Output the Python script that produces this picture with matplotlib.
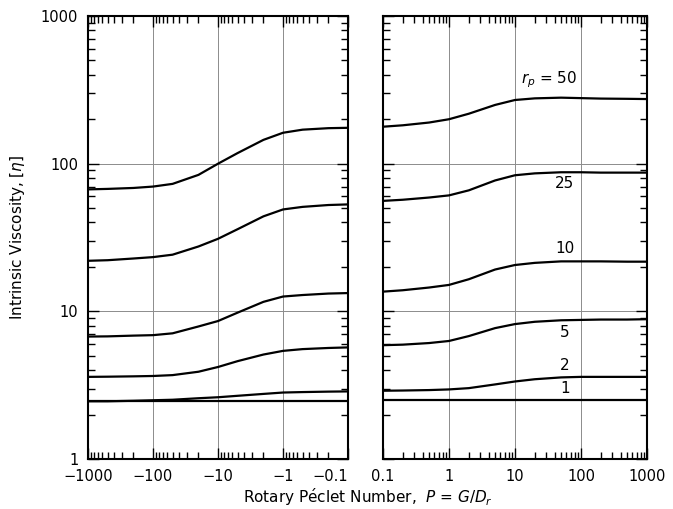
import matplotlib
matplotlib.use("Agg")
import matplotlib.pyplot as plt
from matplotlib.ticker import LogLocator, FixedLocator, FixedFormatter, NullFormatter

# |P| values (left panel is negative P, right panel positive P)
p_neg = [1000, 500, 200, 100, 50, 20, 10, 5, 2, 1, 0.5, 0.2, 0.1]
p_pos = [0.1, 0.2, 0.5, 1, 2, 5, 10, 20, 50, 100, 200, 500, 1000]

aspect_ratios = [50, 25, 10, 5, 2, 1]

visc_neg = {
    50: [67, 67.5, 68.5, 70, 73, 84, 100, 118, 145, 162, 170, 174, 175],
    25: [22, 22.2, 22.8, 23.3, 24.2, 27.5, 31, 36, 44, 49, 51, 52.5, 53],
    10: [6.75, 6.77, 6.85, 6.9, 7.1, 7.9, 8.6, 9.8, 11.6, 12.6, 12.9, 13.2, 13.3],
    5: [3.6, 3.61, 3.63, 3.65, 3.7, 3.9, 4.2, 4.6, 5.1, 5.4, 5.55, 5.65, 5.7],
    2: [2.46, 2.46, 2.48, 2.5, 2.52, 2.58, 2.62, 2.68, 2.76, 2.82, 2.84, 2.86, 2.87],
    1: [2.48] * 13,
}
visc_pos = {
    50: [178, 182, 190, 200, 218, 250, 270, 277, 280, 278, 276, 275, 274],
    25: [56, 57, 59, 61, 66, 77, 83.5, 86, 87.5, 87.5, 87, 87, 87],
    10: [13.6, 13.9, 14.5, 15.1, 16.5, 19.2, 20.6, 21.3, 21.8, 21.8, 21.8, 21.7, 21.7],
    5: [5.9, 5.95, 6.1, 6.3, 6.8, 7.7, 8.2, 8.5, 8.7, 8.75, 8.8, 8.8, 8.85],
    2: [2.9, 2.91, 2.93, 2.96, 3.02, 3.2, 3.35, 3.47, 3.57, 3.6, 3.6, 3.6, 3.6],
    1: [2.5] * 13,
}

y_ticks = [1, 10, 100, 1000]
y_labels = ["1", "10", "100", "1000"]
x_ticks = [1000, 100, 10, 1, 0.1]
x_labels_neg = ["\u22121000", "\u2212100", "\u221210", "\u22121", "\u22120.1"]
x_labels_pos = ["0.1", "1", "10", "100", "1000"]

# curve labels on the right panel: (text, x, y)
curve_labels = [(r"$r_p$ = 50", 33, 368), ("25", 57, 74), ("10", 57, 26.8),
                ("5", 57, 7.2), ("2", 57, 4.3), ("1", 57, 3.02)]

plt.rcParams["font.family"] = "DejaVu Sans"

fig = plt.figure(figsize=(6.73, 5.09), dpi=100)
ax_l = fig.add_axes([0.1308, 0.0982, 0.3863, 0.8703])
ax_r = fig.add_axes([0.569, 0.0982, 0.3923, 0.8703])


def style_axis(ax):
    ax.set_xscale("log")
    ax.set_yscale("log")
    ax.set_ylim(1, 1000)
    ax.grid(True, which="major", color="#8c8c8c", linewidth=0.7)
    ax.xaxis.set_minor_locator(LogLocator(base=10, subs=range(2, 10)))
    ax.yaxis.set_minor_locator(LogLocator(base=10, subs=range(2, 10)))
    ax.xaxis.set_minor_formatter(NullFormatter())
    ax.yaxis.set_minor_formatter(NullFormatter())
    ax.tick_params(which="both", direction="in", top=True, right=True, width=1.0)
    ax.tick_params(which="major", length=8, labelsize=10.5)
    ax.tick_params(which="minor", length=5)
    ax.tick_params(axis="x", which="major", pad=7)
    ax.tick_params(axis="y", which="major", pad=7)
    for s in ax.spines.values():
        s.set_linewidth(1.5)
    ax.yaxis.set_major_locator(FixedLocator(y_ticks))


for rp in aspect_ratios:
    ax_l.plot(p_neg, visc_neg[rp], color="black", linewidth=1.6)
    ax_r.plot(p_pos, visc_pos[rp], color="black", linewidth=1.6)

style_axis(ax_l)
style_axis(ax_r)

ax_l.set_xlim(1000, 0.1)
ax_l.xaxis.set_major_locator(FixedLocator(x_ticks))
ax_l.xaxis.set_major_formatter(FixedFormatter(x_labels_neg))
ax_l.yaxis.set_major_formatter(FixedFormatter(y_labels))

ax_r.set_xlim(0.1, 1000)
ax_r.xaxis.set_major_locator(FixedLocator(x_ticks[::-1]))
ax_r.xaxis.set_major_formatter(FixedFormatter(x_labels_pos))
ax_r.yaxis.set_major_formatter(NullFormatter())

# keep "-0.1" clear of "0.1" at the gap between panels
ax_l.get_xticklabels()[-1].set_horizontalalignment("right")
ax_l.get_xticklabels()[-1].set_x(0.1)

for txt, xv, yv in curve_labels:
    ax_r.text(xv, yv, txt, fontsize=11, ha="center", va="center")

ax_l.set_ylabel(r"Intrinsic Viscosity, [$\eta$]", fontsize=11, labelpad=10)
fig.text(0.547, 0.024, r"Rotary P$\mathrm{\acute{e}}$clet Number,  $P$ = $G/D_r$",
         ha="center", va="center", fontsize=11)

fig.savefig("out.png", dpi=100)
